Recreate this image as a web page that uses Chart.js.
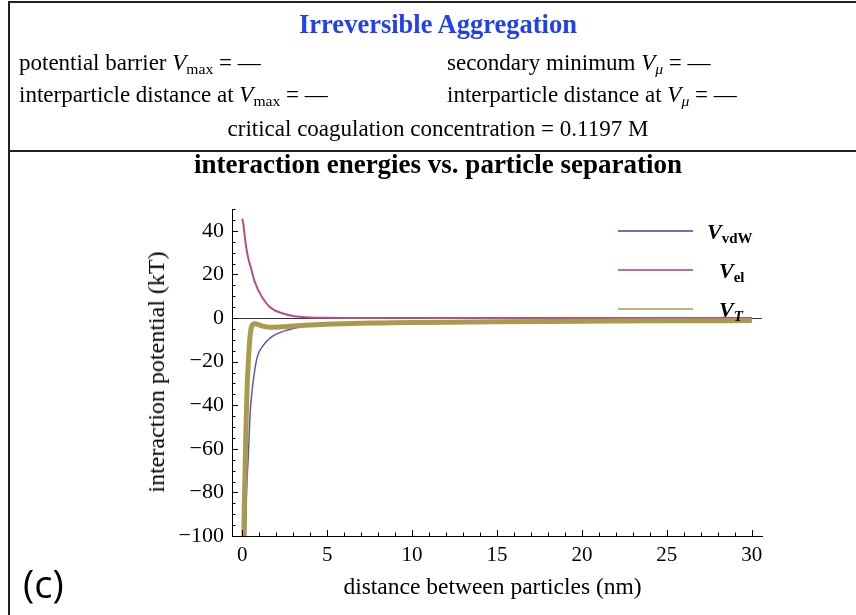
<!DOCTYPE html>
<html>
<head>
<meta charset="utf-8">
<script src="https://cdn.jsdelivr.net/npm/chart.js@4/dist/chart.umd.min.js"></script>
<style>
  html,body{margin:0;padding:0;background:#fff;}
  #page{position:relative;width:856px;height:615px;overflow:hidden;background:#fff;font-family:"Liberation Serif","Times New Roman",serif;color:#000;}
  .t{position:absolute;white-space:nowrap;line-height:1;}
  .sub{font-size:0.68em;vertical-align:-0.28em;}
  .hl{position:absolute;background:#222;}
  canvas{position:absolute;left:0;top:0;}
  .lg{position:absolute;height:2px;}
</style>
</head>
<body>
<div id="page">
  <canvas id="c" width="856" height="615"></canvas>
  <!-- frame -->
  <div class="hl" style="left:8px;top:1px;width:848px;height:2px;"></div>
  <div class="hl" style="left:8px;top:1px;width:2px;height:614px;"></div>
  <div class="hl" style="left:8px;top:150px;width:848px;height:2px;"></div>

  <div class="t" style="left:0;width:876px;text-align:center;top:11px;font-size:26.5px;font-weight:bold;color:#2140f0;">Irreversible Aggregation</div>
  <div class="t" style="left:19px;top:51px;font-size:23px;">potential barrier <i>V</i><span class="sub">max</span> = —</div>
  <div class="t" style="left:447px;top:51px;font-size:23px;">secondary minimum <i>V</i><span class="sub"><i>μ</i></span> = —</div>
  <div class="t" style="left:19px;top:83px;font-size:23px;">interparticle distance at <i>V</i><span class="sub">max</span> = —</div>
  <div class="t" style="left:447px;top:83px;font-size:23px;">interparticle distance at <i>V</i><span class="sub"><i>μ</i></span> = —</div>
  <div class="t" style="left:0;width:876px;text-align:center;top:117px;font-size:23px;">critical coagulation concentration = 0.1197 M</div>

  <div class="t" style="left:0;width:876px;text-align:center;top:151px;font-size:27px;font-weight:bold;">interaction energies vs. particle separation</div>

  <div class="t" style="left:156px;top:372px;font-size:24px;transform:translate(-50%,-50%) rotate(-90deg);">interaction potential (kT)</div>
  <div class="t" style="left:0;width:985px;text-align:center;top:575px;font-size:23.5px;">distance between particles (nm)</div>
  <div class="t" style="left:23px;top:564px;font-size:38px;font-family:'Open Sans',sans-serif;">(c)</div>

  <!-- legend -->
  <div class="lg" style="left:618px;top:230px;width:75px;background:#6d6dc4;"></div>
  <div class="lg" style="left:618px;top:269px;width:75px;background:#bb6f9c;"></div>
  <div class="lg" style="left:618px;top:308px;width:75px;background:#c2b47e;"></div>
  <div class="t" style="left:707px;top:221px;font-size:22px;font-weight:bold;"><i>V</i><span class="sub">vdW</span></div>
  <div class="t" style="left:719px;top:260px;font-size:22px;font-weight:bold;"><i>V</i><span class="sub">el</span></div>
  <div class="t" style="left:719px;top:299px;font-size:22px;font-weight:bold;"><i>V</i><span class="sub"><i>T</i></span></div>
</div>
<script>
// ---- data ----
const distance = [0,0.08,0.1,0.15,0.2,0.25,0.3,0.35,0.4,0.45,0.5,0.55,0.6,0.7,0.8,0.9,1.0,1.2,1.4,1.6,1.8,2.0,2.5,3,3.5,4,5,6,7,8,10,12,15,20,25,30];
const vEl  = [45.5,42.5,41,37.5,34.5,31.8,29.5,27.7,26,24.7,23.5,22,20.5,17.5,15.5,13.5,12,9.2,7,5.2,4.1,3.2,1.8,0.9,0.5,0.28,0.1,0.04,0.01,0,0,0,0,0,0,0];
const vVdW = [null,null,null,-130,-100,-82,-72,-65,-56,-46,-40,-36,-32,-26,-21,-17.5,-15.5,-13,-11,-9.5,-8.3,-7.4,-5.9,-4.8,-4.0,-3.5,-3.0,-2.6,-2.4,-2.3,-2.1,-1.9,-1.7,-1.5,-1.3,-1.2];
const vT   = [null,-130,-100,-78,-58,-42,-30,-22,-15,-9.5,-6,-4,-3.2,-2.6,-2.6,-2.9,-3.2,-3.7,-4.0,-4.2,-4.2,-4.2,-4.0,-3.7,-3.4,-3.2,-2.9,-2.6,-2.4,-2.3,-2.1,-1.9,-1.7,-1.5,-1.3,-1.2];
const xTickValues = [0,5,10,15,20,25,30];
const yTickValues = [-100,-80,-60,-40,-20,0,20,40];

function pts(ys){ const out=[]; distance.forEach((d,i)=>{ if(ys[i]!==null) out.push({x:d,y:ys[i]}); }); return out; }
function fmt(v){ return v<0 ? '\u2212'+Math.abs(v) : String(v); }

const tickPlugin = {
  id:'frameTicks',
  beforeDatasetsDraw(chart){
    const {ctx, chartArea:a, scales:{y}} = chart;
    const y0 = Math.round(y.getPixelForValue(0))+0.5;
    ctx.save(); ctx.strokeStyle='#333'; ctx.lineWidth=1;
    ctx.beginPath(); ctx.moveTo(a.left,y0); ctx.lineTo(a.right,y0); ctx.stroke(); ctx.restore();
  },
  afterDraw(chart){
    const {ctx, chartArea:a, scales:{x,y}} = chart;
    ctx.save(); ctx.strokeStyle='#000'; ctx.lineWidth=1;
    ctx.beginPath();
    for(let v=-100; v<=50; v+=5){
      const p=Math.round(y.getPixelForValue(v))+0.5;
      const len = yTickValues.includes(v)?6:3.5;
      ctx.moveTo(a.left,p); ctx.lineTo(a.left+len,p);
    }
    for(let v=0; v<=30; v+=1){
      const p=Math.round(x.getPixelForValue(v))+0.5;
      const len = xTickValues.includes(v)?6:3.5;
      ctx.moveTo(p,a.bottom); ctx.lineTo(p,a.bottom-len);
    }
    ctx.stroke(); ctx.restore();
  }
};

new Chart(document.getElementById('c'), {
  type:'line',
  data:{ datasets:[
    {label:'V_T', data:pts(vT), borderColor:'#a99a4c', borderWidth:5, order:0},
    {label:'V_el', data:pts(vEl), borderColor:'#b25089', borderWidth:2, order:1},
    {label:'V_vdW', data:pts(vVdW), borderColor:'#5858b6', borderWidth:1.5, order:2}
  ]},
  options:{
    responsive:false, animation:false, devicePixelRatio:1,
    layout:{padding:{left:0,top:209,right:94,bottom:0}},
    elements:{point:{radius:0}, line:{cubicInterpolationMode:'monotone', fill:false}},
    datasets:{line:{clip:{left:4,right:4,top:4,bottom:0}}},
    plugins:{legend:{display:false}, tooltip:{enabled:false}, title:{display:false}},
    scales:{
      x:{type:'linear', min:-0.6, max:30.6,
        afterBuildTicks(s){ s.ticks = xTickValues.map(v=>({value:v})); },
        afterFit(s){ s.height = 79; },
        grid:{display:false, drawTicks:false},
        border:{display:true, color:'#000', width:1},
        ticks:{padding:7, color:'#000', font:{family:'Liberation Serif', size:21}, callback:v=>fmt(v), maxRotation:0, autoSkip:false}
      },
      y:{type:'linear', min:-100, max:50,
        afterBuildTicks(s){ s.ticks = yTickValues.map(v=>({value:v})); },
        afterFit(s){ s.width = 232; },
        grid:{display:false, drawTicks:false},
        border:{display:true, color:'#000', width:1},
        ticks:{padding:8, color:'#000', font:{family:'Liberation Serif', size:22}, callback:v=>fmt(v), autoSkip:false}
      }
    }
  },
  plugins:[tickPlugin]
});
</script>
</body>
</html>
